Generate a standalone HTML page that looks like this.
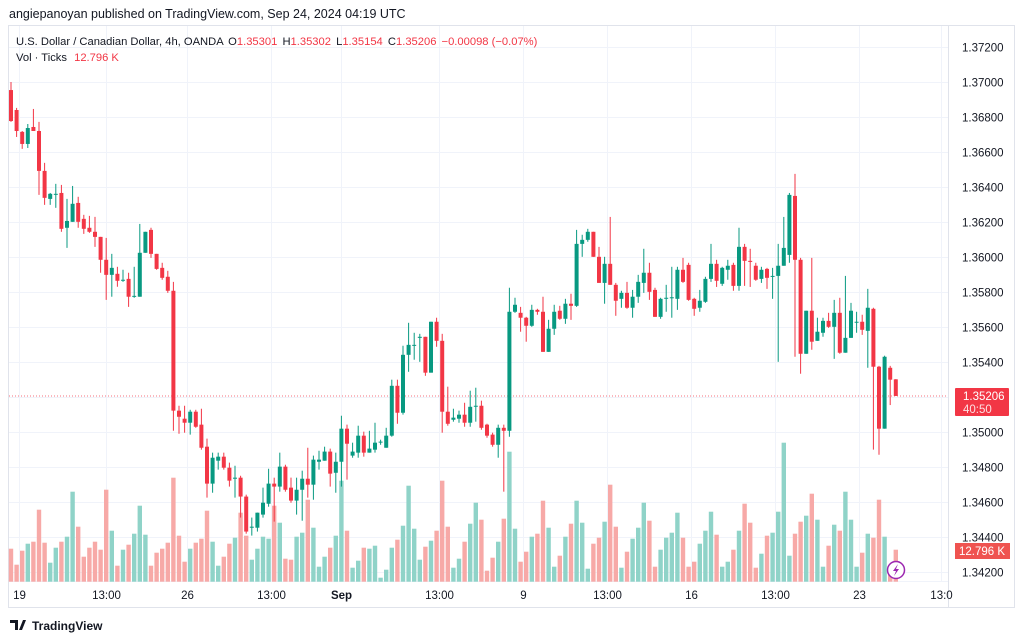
<!DOCTYPE html>
<html><head><meta charset="utf-8">
<style>
body{margin:0;background:#fff;font-family:"Liberation Sans",sans-serif;}
svg{display:block}
</style></head>
<body>
<svg id="chart" width="1024" height="641" xmlns="http://www.w3.org/2000/svg" font-family="Liberation Sans, sans-serif">
<text x="9" y="18" font-size="12.5" fill="#131722">angiepanoyan published on TradingView.com, Sep 24, 2024 04:19 UTC</text>
<rect x="8.5" y="25.5" width="1006" height="582" fill="none" stroke="#e0e3eb"/>
<g id="grid"></g>
<line x1="948.5" y1="26" x2="948.5" y2="607" stroke="#e0e3eb"/>
<line x1="9" y1="581.5" x2="948" y2="581.5" stroke="#f0f3fa"/>
<g id="vol"></g>
<g id="candles"></g>
<g id="axis"></g>
<text x="16" y="45" font-size="11.2" fill="#131722">U.S. Dollar / Canadian Dollar, 4h, OANDA <tspan dx="2">O</tspan><tspan fill="#f23645">1.35301</tspan> <tspan dx="2">H</tspan><tspan fill="#f23645">1.35302</tspan> <tspan dx="2">L</tspan><tspan fill="#f23645">1.35154</tspan> <tspan dx="2">C</tspan><tspan fill="#f23645">1.35206</tspan> <tspan fill="#f23645" dx="2">−0.00098 (−0.07%)</tspan></text>
<text x="16" y="61" font-size="11.2" fill="#131722">Vol · Ticks <tspan fill="#f23645" dx="4">12.796 K</tspan></text>
<g>
<path d="M10 620h8v10h-3v-7h-5z M19 630l4-10h3l-4 10z" fill="#131722"/>
<text x="32" y="630" font-size="12" font-weight="bold" fill="#131722">TradingView</text>
</g>
</svg>
<script>
const opens=[1.36954,1.36840,1.36715,1.36646,1.36743,1.36720,1.36492,1.36332,1.36358,1.36366,1.36167,1.36201,1.36309,1.36218,1.36167,1.36144,1.36115,1.35984,1.35898,1.35904,1.35867,1.35875,1.35775,1.35773,1.36024,1.36155,1.36018,1.35938,1.35887,1.35807,1.35122,1.35076,1.35053,1.35116,1.35042,1.34916,1.34705,1.34836,1.34859,1.34796,1.34733,1.34739,1.34631,1.34453,1.34453,1.34528,1.34590,1.34705,1.34688,1.34802,1.34682,1.34608,1.34670,1.34733,1.34699,1.34830,1.34836,1.34888,1.34767,1.34830,1.35019,1.34865,1.34882,1.34979,1.34882,1.34899,1.34942,1.34910,1.34979,1.35264,1.35110,1.35441,1.35495,1.35538,1.35544,1.35339,1.35630,1.35521,1.35116,1.35070,1.35076,1.35099,1.35053,1.35147,1.35150,1.35042,1.34985,1.34927,1.35024,1.35007,1.35687,1.35681,1.35653,1.35607,1.35698,1.35687,1.35458,1.35590,1.35693,1.35647,1.35733,1.35721,1.36075,1.36098,1.36144,1.36001,1.35852,1.35961,1.35841,1.35761,1.35795,1.35710,1.35773,1.35852,1.35910,1.35812,1.35658,1.35764,1.35764,1.35761,1.35927,1.35955,1.35761,1.35710,1.35744,1.35875,1.35961,1.35847,1.35927,1.35955,1.35835,1.36058,1.35978,1.35950,1.35875,1.35932,1.35887,1.35892,1.35950,1.36012,1.36349,1.35984,1.35447,1.35693,1.35521,1.35567,1.35635,1.35601,1.35681,1.35453,1.35538,1.35627,1.35630,1.35578,1.35704,1.35373,1.35019,1.35367,1.35301];
const highs=[1.37000,1.36852,1.36720,1.36760,1.36846,1.36772,1.36538,1.36366,1.36418,1.36412,1.36332,1.36406,1.36344,1.36241,1.36235,1.36229,1.36115,1.36109,1.36018,1.35944,1.35927,1.35910,1.35944,1.36189,1.36144,1.36167,1.36018,1.35967,1.35921,1.35858,1.35150,1.35150,1.35127,1.35127,1.35133,1.34962,1.34882,1.34882,1.34882,1.34825,1.34807,1.34750,1.34642,1.34511,1.34539,1.34682,1.34790,1.34739,1.34882,1.34813,1.34739,1.34739,1.34779,1.34910,1.34865,1.34893,1.34916,1.34905,1.34882,1.35093,1.35042,1.34939,1.35036,1.35002,1.35007,1.35053,1.34956,1.35024,1.35299,1.35299,1.35493,1.35624,1.35567,1.35561,1.35544,1.35630,1.35653,1.35561,1.35259,1.35133,1.35122,1.35167,1.35236,1.35253,1.35179,1.35047,1.34996,1.35042,1.35042,1.35824,1.35767,1.35715,1.35658,1.35727,1.35704,1.35773,1.35641,1.35727,1.35721,1.35761,1.35790,1.36155,1.36127,1.36161,1.36144,1.36058,1.36001,1.36229,1.35852,1.35807,1.35858,1.35812,1.35898,1.36047,1.35967,1.35824,1.35767,1.35841,1.35944,1.35944,1.35995,1.35967,1.35767,1.35812,1.35887,1.36075,1.35984,1.35944,1.35984,1.35967,1.36167,1.36075,1.36047,1.35967,1.35944,1.35938,1.35938,1.36075,1.36229,1.36366,1.36475,1.35995,1.35693,1.35995,1.35653,1.35653,1.35681,1.35755,1.35767,1.35892,1.35738,1.35687,1.35670,1.35818,1.35710,1.35378,1.35436,1.35378,1.35302];
const lows=[1.36772,1.36686,1.36618,1.36623,1.36720,1.36355,1.36298,1.36298,1.36281,1.36144,1.36052,1.36201,1.36167,1.36132,1.36138,1.36058,1.35910,1.35755,1.35773,1.35830,1.35858,1.35715,1.35767,1.35773,1.36024,1.35995,1.35927,1.35870,1.35795,1.35007,1.34990,1.34996,1.34985,1.35024,1.34899,1.34625,1.34653,1.34785,1.34785,1.34688,1.34625,1.34511,1.34419,1.34408,1.34431,1.34511,1.34573,1.34488,1.34659,1.34659,1.34596,1.34528,1.34493,1.34625,1.34613,1.34785,1.34876,1.34688,1.34653,1.34688,1.34728,1.34853,1.34853,1.34859,1.34882,1.34882,1.34927,1.34910,1.34973,1.35047,1.35099,1.35344,1.35413,1.35401,1.35321,1.35339,1.35487,1.34996,1.35036,1.35059,1.35053,1.35030,1.35030,1.35059,1.35013,1.34967,1.34916,1.34853,1.34659,1.34973,1.35681,1.35573,1.35516,1.35601,1.35670,1.35458,1.35476,1.35555,1.35641,1.35618,1.35641,1.35715,1.36001,1.36087,1.36001,1.35852,1.35733,1.35841,1.35664,1.35710,1.35704,1.35653,1.35738,1.35795,1.35755,1.35658,1.35647,1.35687,1.35653,1.35698,1.35852,1.35750,1.35664,1.35687,1.35738,1.35858,1.35829,1.35835,1.35870,1.35807,1.35807,1.35835,1.35829,1.35864,1.35852,1.35818,1.35761,1.35401,1.35984,1.35967,1.35430,1.35333,1.35498,1.35470,1.35555,1.35544,1.35595,1.35418,1.35447,1.35527,1.35613,1.35567,1.35555,1.35367,1.34899,1.34870,1.35213,1.35154];
const closes=[1.36777,1.36720,1.36646,1.36737,1.36720,1.36492,1.36338,1.36361,1.36361,1.36161,1.36206,1.36304,1.36201,1.36161,1.36144,1.36115,1.35984,1.35898,1.35938,1.35864,1.35870,1.35773,1.35778,1.36024,1.36144,1.36018,1.35932,1.35881,1.35807,1.35122,1.35087,1.35053,1.35116,1.35030,1.34910,1.34705,1.34853,1.34859,1.34796,1.34722,1.34739,1.34631,1.34431,1.34459,1.34539,1.34596,1.34705,1.34688,1.34802,1.34670,1.34608,1.34670,1.34733,1.34699,1.34842,1.34842,1.34888,1.34762,1.34830,1.35019,1.34933,1.34888,1.34979,1.34882,1.34905,1.34939,1.34945,1.34979,1.35264,1.35110,1.35441,1.35498,1.35498,1.35544,1.35339,1.35630,1.35521,1.35116,1.35047,1.35082,1.35099,1.35053,1.35144,1.35150,1.35024,1.34979,1.34927,1.35024,1.35007,1.35687,1.35727,1.35653,1.35607,1.35698,1.35687,1.35458,1.35590,1.35687,1.35647,1.35733,1.35721,1.36075,1.36098,1.36144,1.36001,1.35852,1.35961,1.35841,1.35750,1.35795,1.35710,1.35773,1.35858,1.35910,1.35801,1.35658,1.35761,1.35767,1.35770,1.35927,1.35858,1.35755,1.35704,1.35750,1.35875,1.35961,1.35864,1.35938,1.35950,1.35835,1.36058,1.35978,1.35972,1.35870,1.35927,1.35881,1.35892,1.35950,1.36052,1.36355,1.35984,1.35447,1.35693,1.35516,1.35573,1.35635,1.35601,1.35681,1.35453,1.35538,1.35693,1.35630,1.35584,1.35710,1.35373,1.35019,1.35430,1.35299,1.35206];
const volumes=[13.2,6.8,12.4,15.2,16,28.8,15.6,7.6,13.6,16,18,36,22,10,13.6,16,12.8,36.8,20.4,6.4,12.8,14.8,19.2,30.4,18.8,6.4,11.6,13.2,15.6,41.6,18.4,8,13.2,15.6,17.2,28.4,16,6.4,10,15.2,17.6,27.6,18.4,8.8,13.2,18,17.2,30.4,23.6,9.2,8.8,18,19.6,32.8,21.6,6,10,13.6,18.4,40.4,20.4,5.6,8.4,13.6,13.2,14.4,1.6,4.8,13.6,16.8,22.4,38.4,21.2,8.8,14,16.4,20.4,40.4,22,5.6,9.2,16,23.2,31.6,24.8,4.4,9.6,16,25.2,52,21.2,8,12,18,19.2,32.4,21.6,6,10.4,18,23.2,32.4,23.6,5.2,15.2,17.6,24,38.8,22,5.6,12,17.2,21.6,31.6,24.4,6,12.8,17.6,19.6,27.6,17.6,6,8,15.2,20.4,28,18.8,6,8,12.8,20.4,31.2,23.6,5.6,11.2,18.4,19.6,28,55.6,10.4,19.2,24,26.4,35.2,24.8,6,14.4,22.8,20.4,36,24.8,6,11.6,19.2,17.6,32.8,18,3.6,12.8];
const priceTicks=["1.37200","1.37000","1.36800","1.36600","1.36400","1.36200","1.36000","1.35800","1.35600","1.35400","1.35200","1.35000","1.34800","1.34600","1.34400","1.34200"];
const timeLabels=["19","13:00","26","13:00","Sep","13:00","9","13:00","16","13:00","23","13:0"];
const timeLabelIdx=[1.5,17,31.5,46.5,59,76.5,91.5,106.5,121.5,136.5,151.5,166];
const lastPrice=1.35206;
const lastVolume="12.796 K";

const NS="http://www.w3.org/2000/svg";
function y(p){return 47+(1.372-p)*17500;}
function x(i){return 11+i*5.6;}
function vy(v){return 581.7-v*2.5;}
function mk(tag,attrs,parent){const e=document.createElementNS(NS,tag);for(const k in attrs)e.setAttribute(k,attrs[k]);parent.appendChild(e);return e;}
const grid=document.getElementById('grid'),axis=document.getElementById('axis'),cg=document.getElementById('candles'),vg=document.getElementById('vol');
priceTicks.forEach(t=>{const yy=Math.round(y(parseFloat(t)))+0.5;
 const l=mk('line',{x1:9,x2:948,y1:yy,y2:yy,stroke:'#f0f3fa'},grid);
 
 
 const tx=mk('text',{x:962,y:yy+4,'font-size':11.5,fill:'#131722'},axis);
 
 
 tx.textContent=t;});
timeLabels.forEach((t,k)=>{const xx=Math.round(x(timeLabelIdx[k]))+0.5;
 const l=mk('line',{x1:xx,x2:xx,y1:26,y2:581,stroke:'#f0f3fa'},grid);
 
 
 const tx=mk('text',{x:xx,y:599,'font-size':11.5,fill:'#131722','text-anchor':'middle','font-weight':t==='Sep'?'bold':'normal'},axis);
 
 
 tx.textContent=t;});
const n=Math.min(opens.length,closes.length);
volumes.forEach((v,i)=>{if(i>=n)return;const up=closes[i]>=opens[i];
 const r=mk('rect',{x:x(i)-2.2,y:vy(v),width:4.4,height:581.7-vy(v),fill:up?'#8fd3c8':'#f7a9a7'},vg);
 
 });
const pl=mk('line',{x1:9,x2:948,y1:y(lastPrice),y2:y(lastPrice),stroke:'#f23645','stroke-dasharray':'1 2','stroke-width':1,opacity:0.7},cg);


for(let i=0;i<n;i++){const o=opens[i],c=closes[i],up=c>=o,col=up?'#089981':'#f23645',xx=x(i);
 const hi=(highs[i]!==undefined)?Math.max(highs[i],o,c):Math.max(o,c);
 const lo=(lows[i]!==undefined)?Math.min(lows[i],o,c):Math.min(o,c);
 const w=mk('line',{x1:xx,x2:xx,y1:y(hi),y2:y(lo),stroke:col,'stroke-width':1},cg);
 
 
 const top=y(Math.max(o,c)),h=Math.max(1,Math.abs(y(o)-y(c)));
 const b=mk('rect',{x:xx-2,y:top,width:4,height:h,fill:col},cg);
 
 }
const by=y(lastPrice);
const badge=mk('rect',{x:955,y:by-8,width:54,height:28,fill:'#f23645',rx:1},axis);


const bt=mk('text',{x:963,y:by+4,'font-size':11.5,fill:'#fff'},axis);


bt.textContent=lastPrice.toFixed(5);
const bt2=mk('text',{x:963,y:by+17,'font-size':11.5,fill:'#fde0e2'},axis);


bt2.textContent='40:50';
const vb=mk('rect',{x:955,y:543,width:55,height:16,fill:'#ef5350'},axis);


const vt=mk('text',{x:959,y:555,'font-size':11.5,fill:'#fff'},axis);


vt.textContent=lastVolume;
const ic=mk('circle',{cx:896,cy:570,r:8.5,fill:'#fff',stroke:'#9c27b0','stroke-width':1.5},axis);


const ip=mk('path',{d:'M898 564l-5 7h3l-2 5 5-7h-3z',fill:'#9c27b0'},axis);


</script>
</body></html>
